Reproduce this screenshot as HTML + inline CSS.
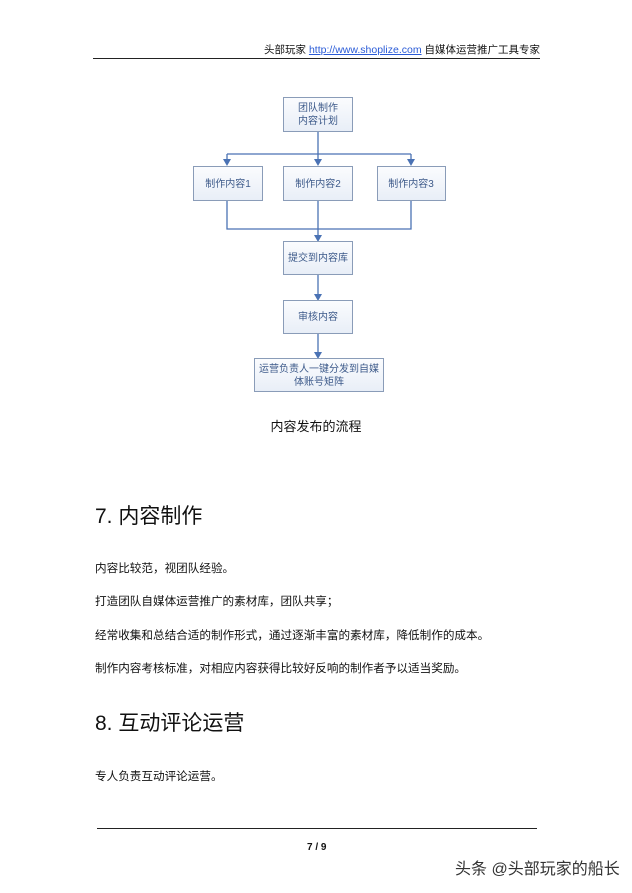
<!DOCTYPE html>
<html><head><meta charset="utf-8"><style>
body{margin:0;width:632px;height:893px;background:#fff;position:relative;overflow:hidden;font-family:"Liberation Sans","Noto Sans CJK SC",sans-serif;color:#111}
.a{position:absolute;white-space:nowrap;line-height:1}
.p{font-size:11.6px;left:95px}
.h{font-size:21px;left:95px}
</style></head><body>
<div class="a" style="right:92px;top:45px;font-size:10.5px">头部玩家 <span style="color:#2a5bd7;text-decoration:underline">http://www.shoplize.com</span> 自媒体运营推广工具专家</div>
<div class="a" style="left:93px;top:58px;width:447px;height:1px;background:#222"></div>
<svg class="a" style="left:0;top:0" width="632" height="420">
<defs><linearGradient id="g" x1="0" y1="0" x2="0" y2="1"><stop offset="0" stop-color="#fbfcfe"/><stop offset="1" stop-color="#e8eef7"/></linearGradient></defs>
<g stroke="#4a72b4" stroke-width="1.3" fill="none">
<path d="M318,131 V154"/><path d="M227,154 H411"/>
<path d="M227,154 V160"/><path d="M318,154 V160"/><path d="M411,154 V160"/>
<path d="M227,201 V229 H411 V201"/><path d="M318,201 V236"/>
<path d="M318,275 V295"/><path d="M318,334 V353"/>
</g>
<g fill="#4a72b4">
<path d="M223,159 h8 l-4,7 z"/><path d="M314,159 h8 l-4,7 z"/><path d="M407,159 h8 l-4,7 z"/>
<path d="M314,235 h8 l-4,7 z"/><path d="M314,294 h8 l-4,7 z"/><path d="M314,352 h8 l-4,7 z"/>
</g>
<g fill="url(#g)" stroke="#8a9cb8" stroke-width="1">
<rect x="283.5" y="97.5" width="69" height="34"/>
<rect x="193.5" y="166.5" width="69" height="34"/>
<rect x="283.5" y="166.5" width="69" height="34"/>
<rect x="377.5" y="166.5" width="68" height="34"/>
<rect x="283.5" y="241.5" width="69" height="33"/>
<rect x="283.5" y="300.5" width="69" height="33"/>
<rect x="254.5" y="358.5" width="129" height="33"/>
</g>
<g fill="#3d5a8a" font-size="10" text-anchor="middle" font-family="Liberation Sans,Noto Sans CJK SC,sans-serif">
<text x="318" y="111">团队制作</text><text x="318" y="124">内容计划</text>
<text x="228" y="187">制作内容1</text><text x="318" y="187">制作内容2</text><text x="411" y="187">制作内容3</text>
<text x="318" y="261">提交到内容库</text><text x="318" y="320">审核内容</text>
<text x="319" y="372">运营负责人一键分发到自媒</text><text x="319" y="385">体账号矩阵</text>
</g></svg>
<div class="a" style="left:0;width:632px;text-align:center;top:420px;font-size:13px">内容发布的流程</div>
<div class="a h" style="top:506px">7. 内容制作</div>
<div class="a p" style="top:563px">内容比较范，视团队经验。</div>
<div class="a p" style="top:596px">打造团队自媒体运营推广的素材库，团队共享；</div>
<div class="a p" style="top:630px">经常收集和总结合适的制作形式，通过逐渐丰富的素材库，降低制作的成本。</div>
<div class="a p" style="top:663px">制作内容考核标准，对相应内容获得比较好反响的制作者予以适当奖励。</div>
<div class="a h" style="top:713px">8. 互动评论运营</div>
<div class="a p" style="top:771px">专人负责互动评论运营。</div>
<div class="a" style="left:97px;top:828px;width:440px;height:1px;background:#222"></div>
<div class="a" style="left:307px;top:843px;font-size:10px;font-weight:bold">7 / 9</div>
<div class="a" style="left:455px;top:862px;font-size:16px;color:#333;text-shadow:0 0 2px #fff">头条 @头部玩家的船长</div>
</body></html>
